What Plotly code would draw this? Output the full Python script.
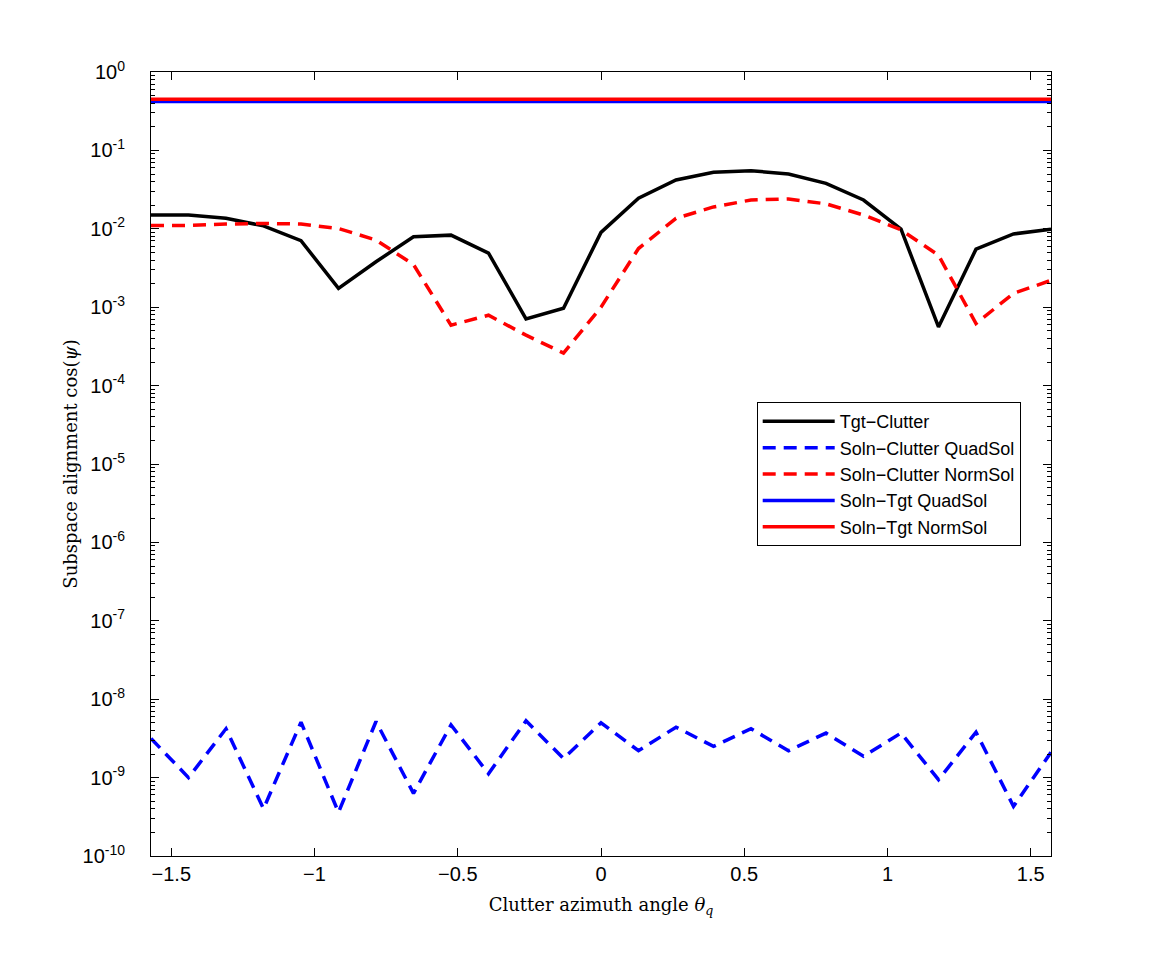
import plotly.graph_objects as go

theta = [-1.5708, -1.4399, -1.3090, -1.1781, -1.0472, -0.9163, -0.7854, -0.6545,
         -0.5236, -0.3927, -0.2618, -0.1309, 0.0, 0.1309, 0.2618, 0.3927,
         0.5236, 0.6545, 0.7854, 0.9163, 1.0472, 1.1781, 1.3090, 1.4399, 1.5708]

tgt_clutter = [0.0150, 0.0150, 0.0136, 0.0109, 0.00705, 0.00174, 0.0038, 0.0079,
               0.0083, 0.0049, 0.00071, 0.00097, 0.0090, 0.0245, 0.0419, 0.0525,
               0.0551, 0.0500, 0.0380, 0.0233, 0.0099, 0.00056, 0.0055, 0.0086, 0.0099]

soln_clutter_quad = [3.15e-9, 1.0e-9, 4.2e-9, 4.0e-10, 5.1e-9, 3.6e-10, 5.2e-9, 6.3e-10,
                     4.7e-9, 1.12e-9, 5.3e-9, 1.75e-9, 5.0e-9, 2.2e-9, 4.4e-9, 2.5e-9,
                     4.2e-9, 2.2e-9, 3.7e-9, 1.87e-9, 3.7e-9, 9.4e-10, 3.8e-9, 4.3e-10, 2.1e-9]

soln_clutter_norm = [0.0110, 0.0110, 0.0115, 0.0117, 0.0115, 0.0101, 0.0072, 0.0035,
                     0.00059, 0.00079, 0.00044, 0.00026, 0.0010, 0.0056, 0.0136, 0.0190,
                     0.0233, 0.0240, 0.0208, 0.0150, 0.0097, 0.0046, 0.00062, 0.0015, 0.0022]

soln_tgt_quad = [0.42, 0.42, 0.42, 0.42, 0.42, 0.42, 0.42, 0.42, 0.42, 0.42, 0.42, 0.42, 0.42,
                 0.42, 0.42, 0.42, 0.42, 0.42, 0.42, 0.42, 0.42, 0.42, 0.42, 0.42, 0.42]

soln_tgt_norm = [0.45, 0.45, 0.45, 0.45, 0.45, 0.45, 0.45, 0.45, 0.45, 0.45, 0.45, 0.45, 0.45,
                 0.45, 0.45, 0.45, 0.45, 0.45, 0.45, 0.45, 0.45, 0.45, 0.45, 0.45, 0.45]

series_names = ["Tgt\u2212Clutter", "Soln\u2212Clutter QuadSol", "Soln\u2212Clutter NormSol",
                "Soln\u2212Tgt QuadSol", "Soln\u2212Tgt NormSol"]

y_tickvals = [1e-10, 1e-9, 1e-8, 1e-7, 1e-6, 1e-5, 1e-4, 1e-3, 1e-2, 1e-1, 1]
y_ticktext = ["10<sup>-10</sup>", "10<sup>-9</sup>", "10<sup>-8</sup>", "10<sup>-7</sup>",
              "10<sup>-6</sup>", "10<sup>-5</sup>", "10<sup>-4</sup>", "10<sup>-3</sup>",
              "10<sup>-2</sup>", "10<sup>-1</sup>", "10<sup>0</sup>"]
x_tickvals = [-1.5, -1, -0.5, 0, 0.5, 1, 1.5]
x_ticktext = ["\u22121.5", "\u22121", "\u22120.5", "0", "0.5", "1", "1.5"]

# minor tick positions (2..9 within each decade)
y_minor = [m * d for d in y_tickvals[:-1] for m in range(2, 10)]

dash = "13px,8px"
fig = go.Figure()
fig.add_trace(go.Scatter(x=theta, y=tgt_clutter, mode="lines", name=series_names[0],
                         line=dict(color="black", width=3.5)))
fig.add_trace(go.Scatter(x=theta, y=soln_clutter_quad, mode="lines", name=series_names[1],
                         line=dict(color="blue", width=3.5, dash=dash)))
fig.add_trace(go.Scatter(x=theta, y=soln_clutter_norm, mode="lines", name=series_names[2],
                         line=dict(color="red", width=3.5, dash=dash)))
fig.add_trace(go.Scatter(x=theta, y=soln_tgt_quad, mode="lines", name=series_names[3],
                         line=dict(color="blue", width=3.5)))
fig.add_trace(go.Scatter(x=theta, y=soln_tgt_norm, mode="lines", name=series_names[4],
                         line=dict(color="red", width=3.5)))

sans = "Liberation Sans, Arial, sans-serif"
serif = "DejaVu Serif, Liberation Serif, serif"
axis_common = dict(showgrid=False, zeroline=False, showline=True, linecolor="black",
                   linewidth=1, mirror="allticks", ticks="inside", tickcolor="black",
                   tickfont=dict(family=sans, size=20, color="black"))

fig.update_layout(
    width=1163, height=963,
    margin=dict(l=151, r=112, t=72, b=107),
    paper_bgcolor="white", plot_bgcolor="white",
    showlegend=True,
    legend=dict(x=0.673, y=0.579, xanchor="left", yanchor="top",
                bgcolor="white", bordercolor="black", borderwidth=1,
                font=dict(family=sans, size=18, color="black"),
                itemwidth=72, tracegroupgap=0),
    xaxis=dict(range=[-1.5708, 1.5708], tickvals=x_tickvals, ticktext=x_ticktext,
               ticklen=8,
               title=dict(text="Clutter azimuth angle <i>θ<sub>q</sub></i>",
                          font=dict(family=serif, size=18, color="black"),
                          standoff=14),
               **axis_common),
    yaxis=dict(type="log", range=[-10, 0], tickvals=y_tickvals, ticktext=y_ticktext,
               ticklen=8, ticklabelstandoff=21,
               minor=dict(tickvals=y_minor, ticks="inside", ticklen=4, tickcolor="black",
                          showgrid=False),
               title=dict(text="Subspace alignment cos(<i>ψ</i>)",
                          font=dict(family=serif, size=18, color="black"),
                          standoff=0),
               **axis_common),
)

fig.write_html("out.html")
